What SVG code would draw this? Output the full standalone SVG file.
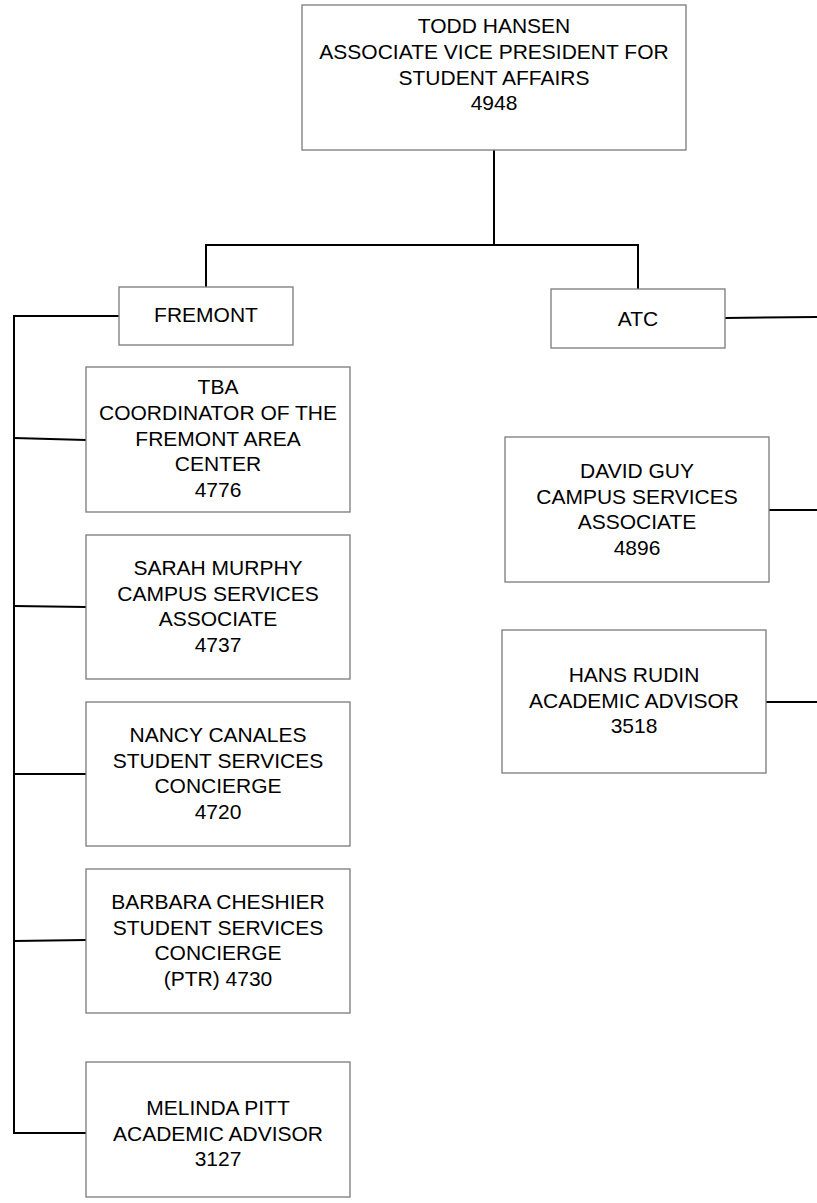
<svg xmlns="http://www.w3.org/2000/svg" width="817" height="1203" viewBox="0 0 817 1203">
<style>
.box{fill:#fff;stroke:#7a7a7a;stroke-width:1.3}
.t{font-family:"Liberation Sans",Arial,sans-serif;font-size:21px;fill:#000;text-anchor:middle}
.c{fill:none;stroke:#000;stroke-width:2}
</style>
<rect width="817" height="1203" fill="#fff"/>
<g id="connectors">
<path class="c" d="M494,150 V245 M206,245 H638 M206,244 V287 M638,244 V289"/>
<path class="c" d="M119,316 H14 V1134"/>
<path class="c" d="M14,438 L86,440 M14,606 L86,607 M14,774 H86 M14,941 L86,940 M14,1133 H86"/>
<path class="c" d="M725,318 L817,317 M769,510 H817 M766,702 H817"/>
</g>
<g id="todd">
<rect class="box" x="302" y="5" width="384" height="145"/>
<text class="t" x="494" y="33">TODD HANSEN</text>
<text class="t" x="494" y="59">ASSOCIATE VICE PRESIDENT FOR</text>
<text class="t" x="494" y="84.5">STUDENT AFFAIRS</text>
<text class="t" x="494" y="110">4948</text>
</g>
<g id="fremont">
<rect class="box" x="119" y="287" width="174" height="58"/>
<text class="t" x="206" y="322">FREMONT</text>
</g>
<g id="atc">
<rect class="box" x="551" y="289" width="174" height="59"/>
<text class="t" x="638" y="326">ATC</text>
</g>
<g id="tba">
<rect class="box" x="86" y="367" width="264" height="145"/>
<text class="t" x="218" y="394">TBA</text>
<text class="t" x="218" y="420">COORDINATOR OF THE</text>
<text class="t" x="218" y="445.5">FREMONT AREA</text>
<text class="t" x="218" y="471">CENTER</text>
<text class="t" x="218" y="497">4776</text>
</g>
<g id="sarah">
<rect class="box" x="86" y="535" width="264" height="144"/>
<text class="t" x="218" y="575">SARAH MURPHY</text>
<text class="t" x="218" y="600.5">CAMPUS SERVICES</text>
<text class="t" x="218" y="626">ASSOCIATE</text>
<text class="t" x="218" y="651.5">4737</text>
</g>
<g id="nancy">
<rect class="box" x="86" y="702" width="264" height="144"/>
<text class="t" x="218" y="742">NANCY CANALES</text>
<text class="t" x="218" y="767.5">STUDENT SERVICES</text>
<text class="t" x="218" y="793">CONCIERGE</text>
<text class="t" x="218" y="818.5">4720</text>
</g>
<g id="barbara">
<rect class="box" x="86" y="869" width="264" height="144"/>
<text class="t" x="218" y="909">BARBARA CHESHIER</text>
<text class="t" x="218" y="934.5">STUDENT SERVICES</text>
<text class="t" x="218" y="960">CONCIERGE</text>
<text class="t" x="218" y="985.5">(PTR) 4730</text>
</g>
<g id="melinda">
<rect class="box" x="86" y="1062" width="264" height="135"/>
<text class="t" x="218" y="1115">MELINDA PITT</text>
<text class="t" x="218" y="1140.5">ACADEMIC ADVISOR</text>
<text class="t" x="218" y="1166">3127</text>
</g>
<g id="david">
<rect class="box" x="505" y="437" width="264" height="145"/>
<text class="t" x="637" y="478">DAVID GUY</text>
<text class="t" x="637" y="503.5">CAMPUS SERVICES</text>
<text class="t" x="637" y="529">ASSOCIATE</text>
<text class="t" x="637" y="554.5">4896</text>
</g>
<g id="hans">
<rect class="box" x="502" y="630" width="264" height="143"/>
<text class="t" x="634" y="682">HANS RUDIN</text>
<text class="t" x="634" y="707.5">ACADEMIC ADVISOR</text>
<text class="t" x="634" y="733">3518</text>
</g>
</svg>
